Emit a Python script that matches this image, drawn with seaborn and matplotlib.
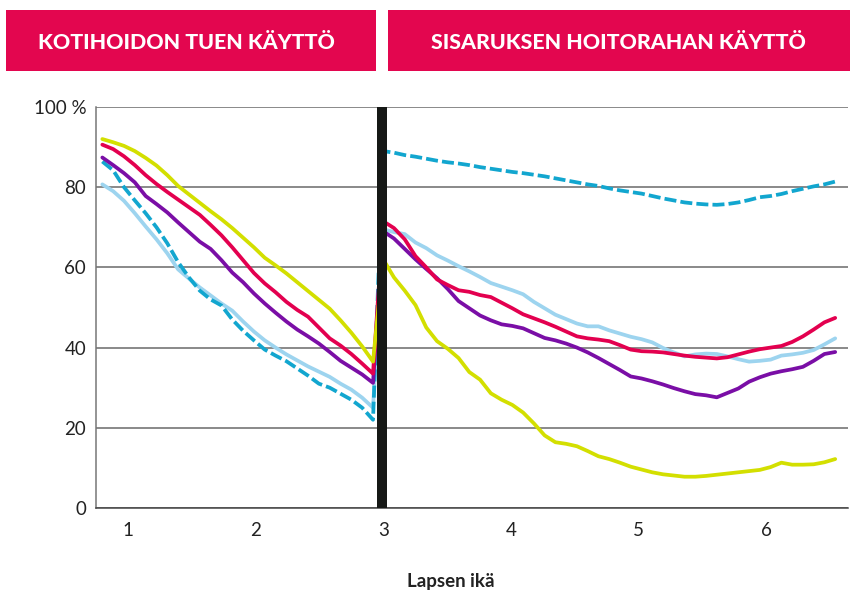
import numpy as np
import pandas as pd
import matplotlib
matplotlib.use("Agg")
import matplotlib.pyplot as plt
from matplotlib.patches import Rectangle
import seaborn as sns

# --- data: share of children (%) by child's age (years) ---
# left part: home care allowance, right part: sibling care allowance
left_age = np.linspace(0.80, 2.92, 26)
right_age = np.linspace(3.0, 6.54, 43)

yellow_left = [92.0, 91.2, 90.3, 89.0, 87.3, 85.4, 83.0, 80.3, 78.2, 76.1, 74.0, 72.0, 69.8,
               67.4, 65.0, 62.4, 60.5, 58.5, 56.3, 54.1, 51.9, 49.7, 46.8, 43.7, 40.3, 36.5]
red_left = [90.6, 89.5, 87.7, 85.5, 83.0, 80.8, 78.8, 76.9, 75.0, 73.1, 70.6, 68.0, 65.0,
            61.8, 58.6, 56.0, 53.8, 51.4, 49.4, 47.7, 45.0, 42.3, 40.5, 38.4, 36.0, 33.5]
purple_left = [87.4, 85.5, 83.5, 81.2, 77.8, 75.8, 73.7, 71.2, 68.8, 66.4, 64.6, 61.8, 58.7,
               56.3, 53.5, 51.0, 48.7, 46.5, 44.5, 42.8, 41.0, 38.9, 36.7, 35.0, 33.3, 31.2]
lightblue_left = [80.7, 79.0, 76.6, 73.5, 70.2, 67.0, 63.5, 59.5, 57.2, 55.0, 53.0, 51.0, 49.2,
                  46.5, 44.0, 41.8, 40.0, 38.3, 36.8, 35.3, 34.0, 32.7, 31.0, 29.5, 27.5, 25.0]
teal_left = [86.4, 84.2, 80.0, 76.7, 73.5, 70.0, 66.0, 61.3, 57.5, 54.2, 52.0, 50.5, 47.0,
             44.2, 41.8, 39.5, 38.0, 36.6, 34.8, 33.0, 31.0, 30.0, 28.5, 27.0, 25.0, 22.0]

yellow_right = [62.0, 57.5, 54.2, 50.6, 45.0, 41.6, 39.7, 37.4, 33.9, 32.0, 28.6, 27.0, 25.7,
                23.8, 21.1, 18.1, 16.4, 16.0, 15.4, 14.2, 12.9, 12.2, 11.3, 10.3, 9.6, 8.9,
                8.4, 8.1, 7.8, 7.8, 8.0, 8.3, 8.6, 8.9, 9.2, 9.5, 10.2, 11.3, 10.8, 10.8,
                10.9, 11.4, 12.2]
red_right = [71.5, 69.8, 67.0, 62.8, 60.0, 57.0, 55.6, 54.3, 53.9, 53.1, 52.6, 51.2, 49.8,
             48.3, 47.3, 46.3, 45.2, 44.0, 42.8, 42.3, 42.0, 41.6, 40.6, 39.5, 39.1, 39.0,
             38.8, 38.4, 38.0, 37.7, 37.5, 37.3, 37.6, 38.3, 39.0, 39.6, 40.0, 40.4, 41.4,
             42.8, 44.5, 46.3, 47.4]
purple_right = [69.0, 67.2, 64.6, 62.0, 59.6, 57.3, 54.6, 51.6, 49.8, 48.0, 46.8, 45.8, 45.4,
                44.8, 43.6, 42.4, 41.8, 41.0, 40.0, 38.8, 37.4, 35.9, 34.4, 32.8, 32.3, 31.6,
                30.8, 29.9, 29.1, 28.4, 28.1, 27.6, 28.7, 29.8, 31.5, 32.6, 33.5, 34.1, 34.6,
                35.2, 36.7, 38.4, 38.9]
lightblue_right = [69.5, 68.8, 68.3, 66.2, 64.8, 63.0, 61.7, 60.3, 59.0, 57.6, 56.1, 55.2, 54.3,
                   53.3, 51.4, 49.8, 48.2, 47.1, 46.0, 45.3, 45.3, 44.3, 43.5, 42.7, 42.1, 41.3,
                   39.9, 38.8, 37.8, 38.3, 38.5, 38.4, 37.8, 37.1, 36.5, 36.7, 37.0, 38.0, 38.3,
                   38.7, 39.4, 40.8, 42.3]
teal_right = [89.0, 88.6, 88.0, 87.6, 87.1, 86.6, 86.2, 85.9, 85.5, 85.0, 84.6, 84.2, 83.8,
              83.5, 83.1, 82.7, 82.2, 81.7, 81.2, 80.7, 80.3, 79.7, 79.2, 78.8, 78.4, 77.8,
              77.2, 76.7, 76.2, 75.9, 75.7, 75.6, 75.8, 76.2, 76.8, 77.5, 77.8, 78.3, 79.0,
              79.6, 80.2, 80.7, 81.4]

series = [
    ("lightblue", lightblue_left, lightblue_right, "#9dd4ef", False),
    ("teal", teal_left, teal_right, "#12a6cf", True),
    ("purple", purple_left, purple_right, "#7a0ea6", False),
    ("red", red_left, red_right, "#e3004f", False),
    ("yellow", yellow_left, yellow_right, "#d3df00", False),
]

y_ticks = [0, 20, 40, 60, 80, 100]
y_tick_labels = ["0", "20", "40", "60", "80", "100 %"]
x_ticks = [1, 2, 3, 4, 5, 6]

left_title = "KOTIHOIDON TUEN KÄYTTÖ"
right_title = "SISARUKSEN HOITORAHAN KÄYTTÖ"
x_label = "Lapsen ikä"

# --- plot ---
sns.set_style("white")
plt.rcParams["font.family"] = ["Lato", "DejaVu Sans"]

fig = plt.figure(figsize=(8.56, 5.92), dpi=100)
ax = fig.add_axes([0.1121, 0.1419, 0.8785, 0.6774])

ages = np.concatenate([left_age, right_age])
for name, vl, vr, col, dashed in series:
    vals = np.concatenate([vl, vr])
    sns.lineplot(x=ages, y=vals, ax=ax, color=col, lw=2.7, sort=False,
                 dashes=False, solid_capstyle="round", zorder=3)
    if dashed:
        ax.lines[-1].set_linestyle((0, (3.2, 1.1)))
        ax.lines[-1].set_dash_capstyle("butt")

# black divider between the two periods
ax.axvspan(2.95, 3.028, color="#161816", lw=0, zorder=5)

ax.set_xlim(0.75, 6.64)
ax.set_ylim(0, 100)
ax.set_yticks(y_ticks)
ax.set_yticklabels(y_tick_labels)
ax.set_xticks(x_ticks)
ax.tick_params(axis="both", length=0, labelsize=13.5, colors="#222222")
ax.tick_params(axis="y", pad=7)
ax.tick_params(axis="x", pad=10)
ax.grid(axis="y", color="#6a6a6a", lw=1.1, zorder=1)
for s in ["top", "right"]:
    ax.spines[s].set_visible(False)
ax.spines["left"].set_color("#777777")
ax.spines["bottom"].set_color("#444444")
ax.spines["left"].set_linewidth(1.1)
ax.spines["bottom"].set_linewidth(1.1)
ax.set_ylabel("")
ax.set_xlabel("")
fig.text(0.527, 0.0169, x_label, fontsize=13.5, fontweight="bold", color="#222222",
         ha="center", va="center")

# header boxes
header_col = "#e3064f"
fig.patches.append(Rectangle((0.0070, 0.8801), 0.4323, 0.1030, transform=fig.transFigure,
                             facecolor=header_col, edgecolor="none"))
fig.patches.append(Rectangle((0.4533, 0.8801), 0.5397, 0.1030, transform=fig.transFigure,
                             facecolor=header_col, edgecolor="none"))
fig.text(0.2175, 0.928, left_title, color="white", fontsize=15.4, fontweight="black",
         ha="center", va="center")
fig.text(0.7230, 0.928, right_title, color="white", fontsize=15.4, fontweight="black",
         ha="center", va="center")

fig.savefig("out.png", dpi=100)
